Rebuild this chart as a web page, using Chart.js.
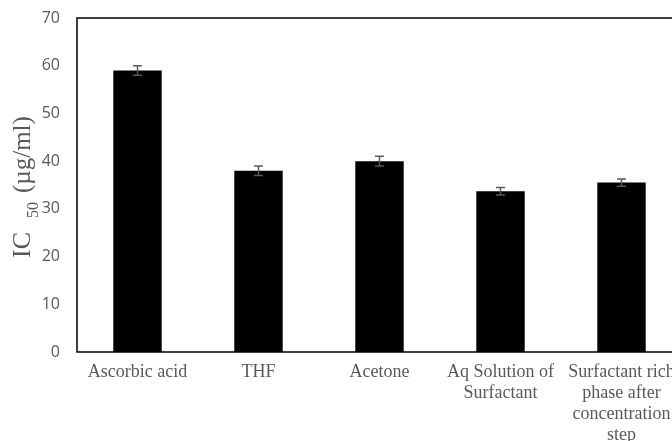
<!DOCTYPE html>
<html>
<head>
<meta charset="utf-8">
<script src="https://cdn.jsdelivr.net/npm/chart.js@4"></script>
<style>
  html, body { margin: 0; padding: 0; background: #fff; overflow: hidden; }
  #wrap { width: 740px; height: 441px; }
</style>
</head>
<body>
<div id="wrap"><canvas id="c" width="740" height="441"></canvas></div>
<script>
// Extracts and their IC50 values with standard deviation
const categories = [
  'Ascorbic acid',
  'THF',
  'Acetone',
  ['Aq Solution of', 'Surfactant'],
  ['Surfactant rich', 'phase after', 'concentration', 'step']
];
const ic50Values = [59, 38, 40, 33.7, 35.5];
const ic50Errors = [1, 1, 1, 0.8, 0.75];
const yTicks = [0, 10, 20, 30, 40, 50, 60, 70];

const grey = '#595959';

// Frame around the plot area (left, top, bottom)
const frame = {
  id: 'frame',
  afterDraw(chart) {
    const { ctx, chartArea: a } = chart;
    ctx.save();
    ctx.strokeStyle = '#000';
    ctx.lineWidth = 1.5;
    ctx.strokeRect(a.left, a.top, a.right - a.left, a.bottom - a.top);
    ctx.restore();
  }
};

// Error bars drawn on top of each bar
const errorBars = {
  id: 'errorBars',
  afterDatasetsDraw(chart) {
    const { ctx } = chart;
    const y = chart.scales.y;
    const meta = chart.getDatasetMeta(0);
    ctx.save();
    ctx.strokeStyle = grey;
    ctx.lineWidth = 1.5;
    meta.data.forEach((bar, i) => {
      const v = ic50Values[i], e = ic50Errors[i];
      const yHi = y.getPixelForValue(v + e);
      const yLo = y.getPixelForValue(v - e);
      const x = bar.x, w = 4.5;
      ctx.beginPath();
      ctx.moveTo(x, yHi); ctx.lineTo(x, yLo);
      ctx.moveTo(x - w, yHi); ctx.lineTo(x + w, yHi);
      ctx.moveTo(x - w, yLo); ctx.lineTo(x + w, yLo);
      ctx.stroke();
    });
    ctx.restore();
  }
};

// Vertical axis title "IC50 (µg/ml)" with subscript
const yTitle = {
  id: 'yTitle',
  afterDraw(chart) {
    const { ctx } = chart;
    ctx.save();
    ctx.translate(30, 258);
    ctx.rotate(-Math.PI / 2);
    ctx.fillStyle = grey;
    ctx.textBaseline = 'alphabetic';
    ctx.textAlign = 'left';
    ctx.font = '26px "Liberation Serif"';
    ctx.fillText('IC', 0, 0);
    ctx.font = '16px "Liberation Serif"';
    ctx.fillText('50', 40, 8);
    ctx.font = '25px "Liberation Serif"';
    ctx.fillText('(\u00B5g/ml)', 65, 0);
    ctx.restore();
  }
};

new Chart(document.getElementById('c'), {
  type: 'bar',
  data: {
    labels: categories,
    datasets: [{
      data: ic50Values,
      backgroundColor: '#000',
      borderColor: '#000',
      borderWidth: 0,
      barPercentage: 0.4,
      categoryPercentage: 1.0
    }]
  },
  options: {
    responsive: false,
    animation: false,
    layout: { padding: { top: 18, right: 58, left: 0, bottom: 0 } },
    plugins: { legend: { display: false }, tooltip: { enabled: false } },
    scales: {
      x: {
        grid: { display: false, drawTicks: false },
        border: { display: false },
        ticks: {
          color: grey,
          font: { family: '"Liberation Serif"', size: 18, lineHeight: 1.17 },
          maxRotation: 0,
          minRotation: 0,
          autoSkip: false,
          padding: 10
        },
        afterFit(s) { s.height = 89; s.paddingLeft = 0; s.paddingRight = 0; }
      },
      y: {
        min: 0,
        max: 70,
        grid: { display: false, drawTicks: false },
        border: { display: false },
        afterBuildTicks(s) { s.ticks = yTicks.map(v => ({ value: v })); },
        ticks: {
          color: grey,
          font: { family: '"Open Sans"', size: 16 },
          padding: 17
        },
        afterFit(s) { s.width = 77; s.paddingTop = 0; s.paddingBottom = 0; }
      }
    }
  },
  plugins: [frame, errorBars, yTitle]
});
</script>
</body>
</html>
